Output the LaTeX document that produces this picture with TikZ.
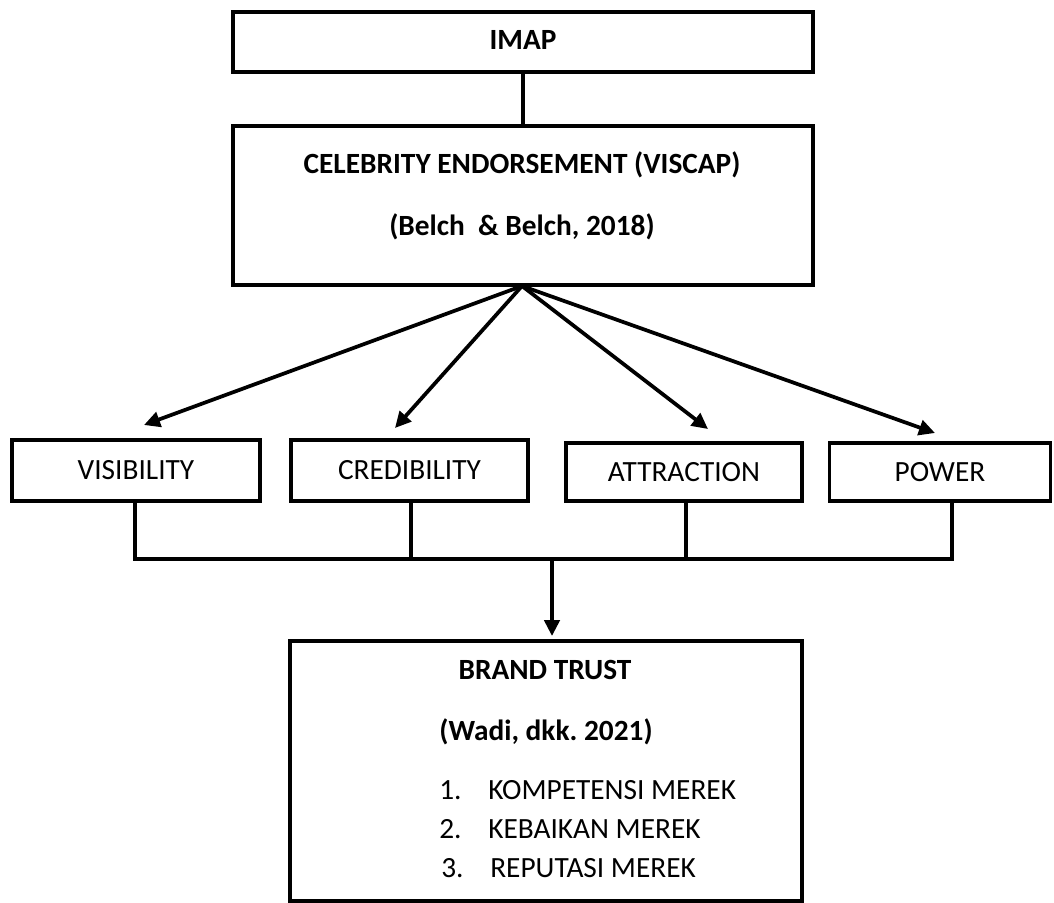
\documentclass[tikz,border=0pt]{standalone}
\usepackage{fontspec}
\setmainfont{Carlito}
\usetikzlibrary{arrows.meta}
\frenchspacing

\begin{document}
\begin{tikzpicture}[x=0.75pt,y=-0.75pt,>={Triangle[length=12pt,width=11.5pt]},
  topbox/.style={draw,line width=3pt,inner sep=0pt,outer sep=0pt,minimum width=435pt},
  dimbox/.style={draw,line width=2.6pt,inner sep=0pt,outer sep=0pt,font=\fontsize{22}{26}\selectfont},
  trustbox/.style={draw,line width=2.4pt,inner sep=0pt,outer sep=0pt},
  headtext/.style={font=\fontsize{22}{26}\selectfont\bfseries,inner sep=0pt},
  itemtext/.style={font=\fontsize{22}{26}\selectfont,anchor=west,inner sep=0pt},
  link/.style={line width=2.8pt}]
\useasboundingbox (0,0) rectangle (1054,903);
% top boxes
\node[topbox,minimum height=45pt] (imap) at (523,42) {};
\node[headtext] (imapT) at (523,40) {IMAP};
\node[topbox,minimum height=119.25pt] (celeb) at (523,205.5) {};
\node[headtext] (celebT) at (522,165) {CELEBRITY ENDORSEMENT (VISCAP)};
\node[headtext] (celebR) at (522,227) {(Belch\ \ \& Belch, 2018)};
\draw[link] (imap.south) -- (celeb.north);
% dimensions
\node[dimbox,minimum width=186pt,minimum height=45.75pt] (vis) at (136,470.5) {VISIBILITY};
\node[dimbox,minimum width=177.75pt,minimum height=45.75pt] (cred) at (409.5,470.5) {CREDIBILITY};
\node[dimbox,minimum width=177pt,minimum height=43.5pt] (attr) at (684,472) {ATTRACTION};
\node[dimbox,minimum width=165.75pt,minimum height=43.5pt] (pow) at (940,472) {POWER};
\coordinate (fan) at (522,286);
\coordinate (tipV) at (144,425);
\coordinate (tipC) at (395,428);
\coordinate (tipA) at (708,429);
\coordinate (tipP) at (935,433);
\foreach \t in {tipV,tipC,tipA,tipP}
  \draw[link,->] (fan) -- (\t);
% joining line
\coordinate (busL) at (135,559);
\coordinate (busR) at (952,559);
\coordinate (drop) at (552,559);
\draw[link] (vis.south -| busL) -- (busL) -- (busR) -- (busR |- pow.south);
\draw[link] (cred.south -| 411,0) -- (411,559);
\draw[link] (attr.south -| 686,0) -- (686,559);
% brand trust
\node[trustbox,minimum width=384pt,minimum height=195pt] (trust) at (546,771) {};
\coordinate (tipB) at (552,636);
\draw[link,->] (drop) -- (tipB);
\node[headtext] (trustT) at (545,670) {BRAND TRUST};
\node[headtext] (trustR) at (546,732) {(Wadi, dkk. 2021)};
\node[itemtext] (n1) at (439,790) {1.};
\node[itemtext] (i1) at (488,790) {KOMPETENSI MEREK};
\node[itemtext] (n2) at (439,829) {2.};
\node[itemtext] (i2) at (488,829) {KEBAIKAN MEREK};
\node[itemtext] (n3) at (441,868) {3.};
\node[itemtext] (i3) at (490,868) {REPUTASI MEREK};
\end{tikzpicture}
\end{document}
